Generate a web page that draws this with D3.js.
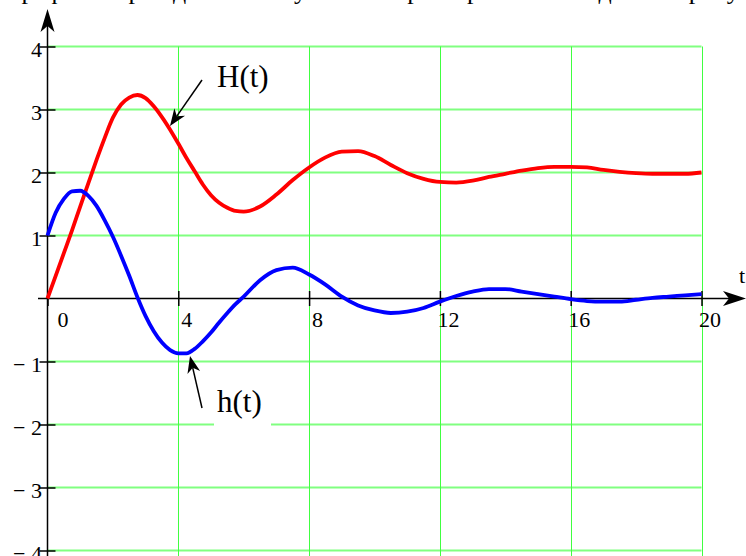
<!DOCTYPE html>
<html>
<head>
<meta charset="utf-8">
<script src="https://cdn.jsdelivr.net/npm/d3@7"></script>
<style>
  html, body { margin: 0; padding: 0; background: #fff; }
  svg { display: block; }
  text { font-family: "Liberation Serif", "Times New Roman", serif; fill: #000; }
</style>
</head>
<body>
<svg id="chart" width="746" height="556"></svg>
<script>
// time samples (s)
const tValues = [
  0, 0.25, 0.5, 0.75, 1, 1.25, 1.5, 1.75, 2, 2.25, 2.5, 2.75, 3, 3.25, 3.5, 3.75,
  4, 4.25, 4.5, 4.75, 5, 5.25, 5.5, 5.75, 6, 6.5, 7, 7.5, 8, 8.5, 9, 9.5,
  10, 10.5, 11, 11.5, 12, 12.5, 13, 13.5, 14, 14.5, 15, 15.5, 16, 16.5, 17, 17.5,
  18, 18.5, 19, 19.5, 20
];
// step response H(t)
const stepH = [
  0, 0.36, 0.72, 1.08, 1.46, 1.83, 2.20, 2.55, 2.87, 3.08, 3.19, 3.23, 3.18, 3.05, 2.88, 2.68,
  2.46, 2.23, 2.02, 1.81, 1.64, 1.52, 1.44, 1.39, 1.38, 1.46, 1.65, 1.88, 2.08, 2.24, 2.33, 2.34,
  2.26, 2.12, 1.99, 1.90, 1.85, 1.84, 1.87, 1.93, 1.98, 2.03, 2.07, 2.09, 2.09, 2.08, 2.04, 2.01,
  1.99, 1.98, 1.98, 1.98, 2.00
];
// impulse response h(t)
const impulseH = [
  1.00, 1.36, 1.58, 1.70, 1.71, 1.63, 1.47, 1.24, 0.98, 0.68, 0.36, 0.02, -0.28, -0.52, -0.70, -0.82,
  -0.87, -0.87, -0.80, -0.68, -0.54, -0.38, -0.23, -0.09, 0.03, 0.29, 0.45, 0.49, 0.38, 0.22, 0.03, -0.11,
  -0.19, -0.23, -0.21, -0.15, -0.05, 0.04, 0.11, 0.15, 0.15, 0.11, 0.07, 0.03, -0.01, -0.04, -0.05, -0.05,
  -0.02, 0.01, 0.03, 0.05, 0.07
];
const xTicks = [0, 4, 8, 12, 16, 20];
const yTicks = [-4, -3, -2, -1, 1, 2, 3, 4];
const yTickLabels = ["\u2212 4", "\u2212 3", "\u2212 2", "\u2212 1", "1", "2", "3", "4"];
const headerText = "Графіки перехідної та імпульсної характеристик наведено на рисунку у звіті";

const svg = d3.select("#chart");
const x = d3.scaleLinear().domain([0, 20]).range([47.5, 701.5]);
const y = d3.scaleLinear().domain([-4, 4]).range([550.5, 46.5]);
const bottom = 556;

// header line (only its lowest strokes fall inside the frame)
svg.append("text")
  .attr("x", 8).attr("y", -1)
  .style("font-size", "26px")
  .text(headerText);

// grid
const grid = svg.append("g");
grid.selectAll("line.h").data(yTicks).join("line")
  .attr("x1", x(0)).attr("x2", x(20))
  .attr("y1", d => y(d)).attr("y2", d => y(d))
  .attr("stroke", "#80ff80").attr("stroke-width", 2);
grid.selectAll("line.v").data(xTicks.filter(d => d > 0)).join("line")
  .attr("x1", d => Math.round(x(d)) + 0.5).attr("x2", d => Math.round(x(d)) + 0.5)
  .attr("y1", y(4)).attr("y2", bottom)
  .attr("stroke", "#40ff40").attr("stroke-width", 1);

// white backing of the h(t) label
svg.append("rect")
  .attr("x", 214).attr("y", 372).attr("width", 57).attr("height", 58)
  .attr("fill", "#fff");

// axes
const ax = svg.append("g");
ax.append("line")
  .attr("x1", x(0)).attr("x2", x(0)).attr("y1", bottom).attr("y2", 14)
  .attr("stroke", "#000").attr("stroke-width", 1.5);
ax.append("path")
  .attr("d", `M${x(0)},9 L${x(0) - 7},32 L${x(0)},26 L${x(0) + 7},32 Z`)
  .attr("fill", "#000");
ax.append("line")
  .attr("x1", 38).attr("x2", 738).attr("y1", y(0)).attr("y2", y(0))
  .attr("stroke", "#000").attr("stroke-width", 1.5);
ax.append("path")
  .attr("d", `M746,${y(0)} L723,${y(0) - 7.5} L729,${y(0)} L723,${y(0) + 7.5} Z`)
  .attr("fill", "#000");
ax.append("text")
  .attr("x", 739).attr("y", 283)
  .style("font-size", "22px")
  .text("t");

const yAxis = d3.axisLeft(y)
  .tickValues(yTicks)
  .tickSize(8)
  .tickPadding(-2.5)
  .tickFormat(d => yTickLabels[yTicks.indexOf(d)]);
const gy = svg.append("g").attr("transform", `translate(${x(0)},0)`).call(yAxis);
gy.select(".domain").remove();
gy.selectAll(".tick line").attr("x1", 8).attr("x2", -8).attr("stroke", "#000").attr("stroke-width", 1.5);
gy.selectAll(".tick text")
  .attr("dy", "0.45em")
  .style("font-size", "22px")
  .style("font-family", "'Liberation Serif', serif");

const xAxis = d3.axisBottom(x)
  .tickValues(xTicks)
  .tickSize(7.5)
  .tickFormat(d3.format("d"));
const gx = svg.append("g").attr("transform", `translate(0,${y(0)})`).call(xAxis);
gx.select(".domain").remove();
gx.selectAll(".tick line").attr("y1", -7.5).attr("y2", 7.5).attr("stroke", "#000").attr("stroke-width", 1.5);
gx.selectAll(".tick text")
  .attr("x", d => d === 0 ? 15 : 8)
  .attr("y", 28).attr("dy", 0)
  .attr("text-anchor", "middle")
  .style("font-size", "22px")
  .style("font-family", "'Liberation Serif', serif");

// curves
const line = d3.line().x(d => x(d[0])).y(d => y(d[1])).curve(d3.curveMonotoneX);
svg.append("path")
  .datum(tValues.map((t, i) => [t, stepH[i]]))
  .attr("d", line)
  .attr("fill", "none").attr("stroke", "#ff0000").attr("stroke-width", 3.8)
  .attr("stroke-linejoin", "round");
svg.append("path")
  .datum(tValues.map((t, i) => [t, impulseH[i]]))
  .attr("d", line)
  .attr("fill", "none").attr("stroke", "#0000ff").attr("stroke-width", 3.8)
  .attr("stroke-linejoin", "round");

// annotation arrows
function pointer(x1, y1, x2, y2) {
  const a = Math.atan2(y2 - y1, x2 - x1);
  const len = 17, half = 6.5, notch = 12;
  const bx = x2 - len * Math.cos(a), by = y2 - len * Math.sin(a);
  const nx = x2 - notch * Math.cos(a), ny = y2 - notch * Math.sin(a);
  const px = -Math.sin(a) * half, py = Math.cos(a) * half;
  svg.append("line")
    .attr("x1", x1).attr("y1", y1).attr("x2", nx).attr("y2", ny)
    .attr("stroke", "#000").attr("stroke-width", 1.5);
  svg.append("path")
    .attr("d", `M${x2},${y2} L${bx + px},${by + py} L${nx},${ny} L${bx - px},${by - py} Z`)
    .attr("fill", "#000");
}
pointer(202, 80, 170, 126);
pointer(202, 408, 190, 356);

svg.append("text").attr("x", 217).attr("y", 87).style("font-size", "31px").text("H(t)");
svg.append("text").attr("x", 217).attr("y", 412).style("font-size", "31px").text("h(t)");
</script>
</body>
</html>
